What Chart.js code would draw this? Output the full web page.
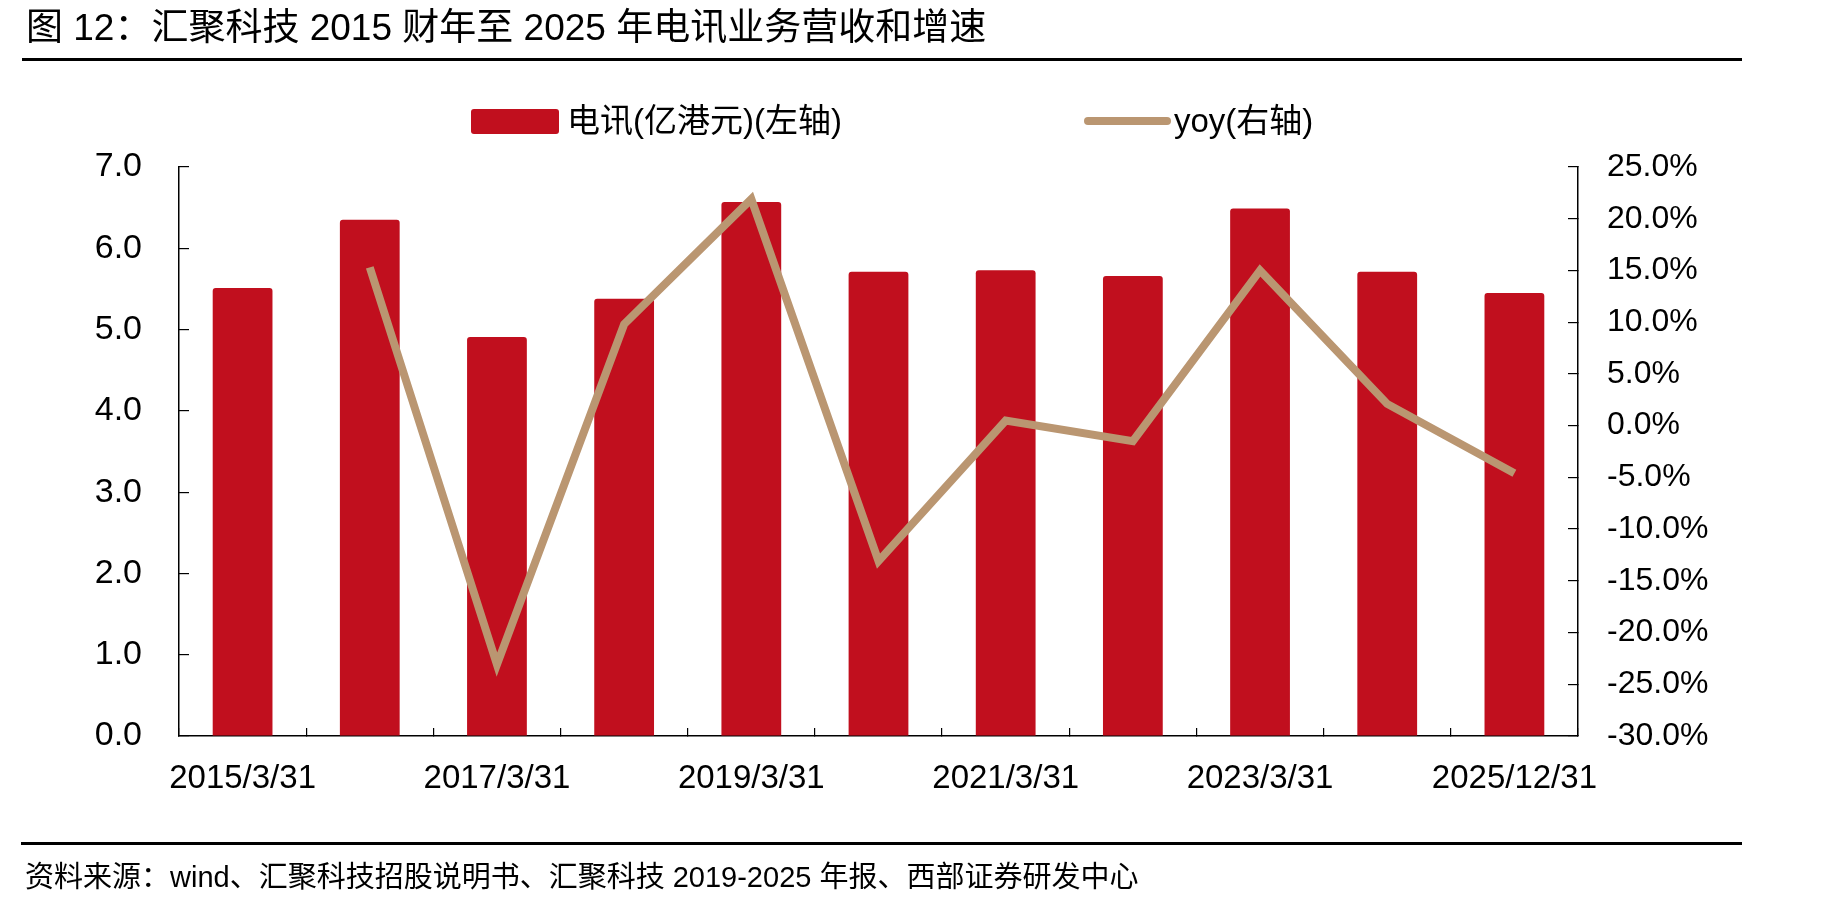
<!DOCTYPE html>
<html>
<head>
<meta charset="utf-8">
<script src="https://cdn.jsdelivr.net/npm/chart.js@4.4.1/dist/chart.umd.min.js"></script>
<style>
  html, body { margin: 0; padding: 0; background: #fff; }
  body { width: 1838px; height: 908px; position: relative; overflow: hidden;
         font-family: "Liberation Sans", "Noto Sans CJK SC", sans-serif; color: #000; }
  #wrap { position: absolute; left: 0; top: 0; width: 1838px; height: 908px; }
  .abs { position: absolute; white-space: nowrap; }
  #title { left: 26px; top: 5px; font-size: 37px; line-height: 46px; }
  #rule1 { left: 22px; top: 58px; width: 1720px; height: 3px; background: #000; }
  #rule2 { left: 21px; top: 842px; width: 1721px; height: 3px; background: #000; }
  #source { left: 25px; top: 858px; font-size: 29px; line-height: 38px; }
  .lgtext { font-size: 33px; line-height: 40px; top: 101px; }
</style>
</head>
<body>
<div id="wrap"><canvas id="c" width="1838" height="908"></canvas></div>
<div class="abs" id="title">图 12：汇聚科技 2015 财年至 2025 年电讯业务营收和增速</div>
<div class="abs" id="rule1"></div>
<div class="abs" id="lgBar" style="left:471px;top:109px;width:88px;height:25px;background:#C10F1E;border-radius:3px;"></div>
<div class="abs lgtext" id="lgBarText" style="left:567px;">电讯(亿港元)(左轴)</div>
<div class="abs" id="lgLine" style="left:1084px;top:117px;width:87px;height:8px;background:#BA9671;border-radius:4px;"></div>
<div class="abs lgtext" id="lgLineText" style="left:1174px;">yoy(右轴)</div>
<div class="abs" id="rule2"></div>
<div class="abs" id="source">资料来源：wind、汇聚科技招股说明书、汇聚科技 2019-2025 年报、西部证券研发中心</div>
<script>
const categories = ['2015/3/31','2016/3/31','2017/3/31','2018/3/31','2019/3/31','2020/3/31','2021/3/31','2022/3/31','2023/3/31','2024/3/31','2025/12/31'];
const telecomRevenue = [5.51, 6.35, 4.91, 5.38, 6.57, 5.71, 5.73, 5.66, 6.49, 5.71, 5.45];
const yoyGrowth = [null, 15.3, -23.1, 9.8, 21.9, -13.1, 0.5, -1.5, 15.0, 2.1, -4.6];
const leftTicks = { min: 0, max: 7, step: 1 };
const rightTicks = { min: -30, max: 25, step: 5 };

const BAR_COLOR = '#C10F1E';
const LINE_COLOR = '#BA9671';
const FONT = '"Liberation Sans", "Noto Sans CJK SC", sans-serif';

new Chart(document.getElementById('c'), {
  data: {
    labels: categories,
    datasets: [
      {
        type: 'line',
        label: 'yoy(右轴)',
        data: yoyGrowth,
        yAxisID: 'y1',
        borderColor: LINE_COLOR,
        backgroundColor: LINE_COLOR,
        borderWidth: 8,
        pointRadius: 0,
        tension: 0,
        order: 1
      },
      {
        type: 'bar',
        label: '电讯(亿港元)(左轴)',
        data: telecomRevenue,
        yAxisID: 'y',
        backgroundColor: BAR_COLOR,
        borderWidth: 0,
        borderRadius: { topLeft: 3, topRight: 3 },
        borderSkipped: 'bottom',
        categoryPercentage: 1.0,
        barPercentage: 0.47,
        order: 2
      }
    ]
  },
  options: {
    responsive: false,
    animation: false,
    devicePixelRatio: 1,
    layout: { padding: { top: 167, left: 0, right: 60, bottom: 112 } },
    plugins: {
      legend: { display: false },
      title: { display: false },
      tooltip: { enabled: false }
    },
    scales: {
      x: {
        type: 'category',
        offset: true,
        grid: { drawOnChartArea: false, offset: true, tickLength: -8, color: '#000', lineWidth: 1.2 },
        border: { color: '#000', width: 1.5 },
        ticks: {
          autoSkip: false, maxRotation: 0, minRotation: 0,
          color: '#000', padding: 31,
          font: { family: FONT, size: 33 },
          callback: function (v, i) { return i % 2 === 0 ? this.getLabelForValue(v) : ''; }
        },
        afterFit: s => { s.height = 60; }
      },
      y: {
        position: 'left',
        min: leftTicks.min, max: leftTicks.max,
        grid: { drawOnChartArea: false, tickLength: -10, color: '#000', lineWidth: 1.2 },
        border: { color: '#000', width: 1.5 },
        ticks: {
          stepSize: leftTicks.step, color: '#000', padding: 47,
          font: { family: FONT, size: 34 },
          callback: v => Number(v).toFixed(1)
        },
        afterFit: s => { s.width = 179; }
      },
      y1: {
        position: 'right',
        min: rightTicks.min, max: rightTicks.max,
        grid: { drawOnChartArea: false, tickLength: -10, color: '#000', lineWidth: 1.2 },
        border: { color: '#000', width: 1.5 },
        ticks: {
          stepSize: rightTicks.step, color: '#000', padding: 39,
          font: { family: FONT, size: 32 },
          callback: v => Number(v).toFixed(1) + '%'
        },
        afterFit: s => { s.width = 200; }
      }
    }
  }
});
</script>
</body>
</html>
